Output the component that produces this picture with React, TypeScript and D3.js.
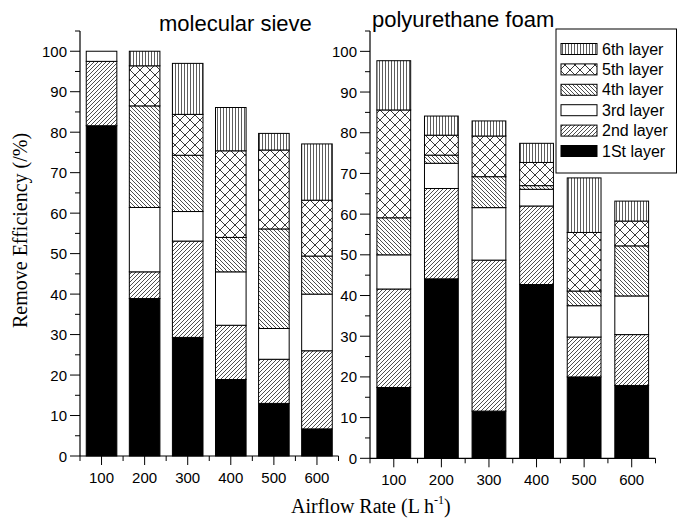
import * as d3 from "d3";

const rates = [100, 200, 300, 400, 500, 600];
const layerKeys = ["l1", "l2", "l3", "l4", "l5", "l6"];
const layerNames = ["1St layer", "2nd layer", "3rd layer", "4th layer", "5th layer", "6th layer"];

// molecular sieve, per layer (increments)
const sieveL1 = [81.6, 38.9, 29.3, 18.9, 13.0, 6.7];
const sieveL2 = [15.9, 6.6, 23.8, 13.4, 10.9, 19.3];
const sieveL3 = [2.5, 15.9, 7.3, 13.2, 7.6, 14.0];
const sieveL4 = [0, 25.1, 13.9, 8.5, 24.6, 9.4];
const sieveL5 = [0, 9.9, 10.1, 21.4, 19.5, 13.8];
const sieveL6 = [0, 3.6, 12.6, 10.7, 4.1, 13.9];

// polyurethane foam
const foamL1 = [17.4, 44.1, 11.6, 42.7, 20.0, 17.9];
const foamL2 = [24.2, 22.2, 37.1, 19.3, 9.8, 12.5];
const foamL3 = [8.4, 6.2, 12.9, 4.1, 7.7, 9.5];
const foamL4 = [9.1, 2.0, 7.6, 0.9, 3.6, 12.3];
const foamL5 = [26.5, 4.9, 10.0, 5.7, 14.4, 6.1];
const foamL6 = [12.1, 4.7, 3.7, 4.7, 13.4, 4.9];

const yMajor = d3.range(0, 101, 10);
const yMinor = d3.range(5, 106, 10);
const xMinor = d3.range(50, 651, 100);

const sans = "'Liberation Sans', Arial, sans-serif";
const serif = "'Liberation Serif', 'Times New Roman', serif";

const fills = ["#000", "url(#p2)", "#fff", "url(#p4)", "url(#p5)", "url(#p6)"];

function toRows(layers) {
  return rates.map((r, i) => {
    const row = { rate: r };
    layerKeys.forEach((k, j) => (row[k] = layers[j][i]));
    return row;
  });
}

function Panel({ layers, x0, x1, yBottom, yTop, title, titleX, titleY }) {
  const x = d3.scaleLinear().domain([50, 650]).range([x0, x1]);
  const y = d3.scaleLinear().domain([0, 105]).range([yBottom, yTop]);
  const series = d3.stack().keys(layerKeys)(toRows(layers));
  const half = 35.5;

  return (
    <g>
      {/* bars */}
      {series.map((s, li) => (
        <g key={s.key}>
          {s.map((d, i) => {
            if (d[1] - d[0] <= 0) return null;
            return (
              <rect
                key={i}
                x={x(d.data.rate - half)}
                y={y(d[1])}
                width={x(d.data.rate + half) - x(d.data.rate - half)}
                height={y(d[0]) - y(d[1])}
                fill={fills[li]}
                stroke="#000"
                strokeWidth={1}
              />
            );
          })}
        </g>
      ))}
      {/* y axis */}
      <line x1={x0} x2={x0} y1={yBottom} y2={y(105)} stroke="#000" strokeWidth={1.2} />
      {yMajor.map((t) => (
        <g key={t}>
          <line x1={x0 - 10} x2={x0} y1={y(t)} y2={y(t)} stroke="#000" />
          <text
            x={x0 - 13}
            y={y(t)}
            textAnchor="end"
            dominantBaseline="central"
            fontSize={15}
            fontFamily={sans}
          >
            {t}
          </text>
        </g>
      ))}
      {yMinor.map((t) => (
        <line key={t} x1={x0 - 5} x2={x0} y1={y(t)} y2={y(t)} stroke="#000" />
      ))}
      {/* x axis */}
      <line x1={x0} x2={x1} y1={yBottom} y2={yBottom} stroke="#000" strokeWidth={1.2} />
      {rates.map((t) => (
        <g key={t}>
          <line x1={x(t)} x2={x(t)} y1={yBottom} y2={yBottom + 9} stroke="#000" />
          <text x={x(t)} y={yBottom + 27} textAnchor="middle" fontSize={15} fontFamily={sans}>
            {t}
          </text>
        </g>
      ))}
      {xMinor.map((t) => (
        <line key={t} x1={x(t)} x2={x(t)} y1={yBottom} y2={yBottom + 5} stroke="#000" />
      ))}
      <text x={titleX} y={titleY} fontSize={22} fontFamily={sans}>
        {title}
      </text>
    </g>
  );
}

function Legend() {
  const order = [5, 4, 3, 2, 1, 0];
  const rowY = d3.scaleLinear().domain([0, 5]).range([49, 151]);
  return (
    <g>
      <rect x={556} y={29} width={120.5} height={144} fill="#fff" stroke="#000" strokeWidth={1} />
      {order.map((li, i) => (
        <g key={li}>
          <rect
            x={561}
            y={rowY(i) - 5.5}
            width={36}
            height={11}
            fill={fills[li]}
            stroke="#000"
            strokeWidth={1}
          />
          <text
            x={602}
            y={rowY(i)}
            dominantBaseline="central"
            fontSize={16}
            fontFamily={sans}
          >
            {layerNames[li]}
          </text>
        </g>
      ))}
    </g>
  );
}

export default function App() {
  return (
    <svg
      width={678}
      height={521}
      style={{ position: "absolute", left: 0, top: 0, background: "#fff" }}
    >
      <defs>
        <pattern id="p2" patternUnits="userSpaceOnUse" width={4} height={4}>
          <rect width={4} height={4} fill="#fff" />
          <path d="M-1,1 l2,-2 M0,4 l4,-4 M3,5 l2,-2" stroke="#222" strokeWidth={0.8} />
        </pattern>
        <pattern id="p4" patternUnits="userSpaceOnUse" width={4} height={4}>
          <rect width={4} height={4} fill="#fff" />
          <path d="M-1,3 l2,2 M0,0 l4,4 M3,-1 l2,2" stroke="#222" strokeWidth={0.8} />
        </pattern>
        <pattern id="p5" patternUnits="userSpaceOnUse" width={10} height={10}>
          <rect width={10} height={10} fill="#fff" />
          <path d="M0,0 L10,10 M10,0 L0,10" stroke="#222" strokeWidth={0.9} />
        </pattern>
        <pattern id="p6" patternUnits="userSpaceOnUse" width={3} height={3}>
          <rect width={3} height={3} fill="#fff" />
          <path d="M1.5,0 L1.5,3" stroke="#333" strokeWidth={0.8} />
        </pattern>
      </defs>
      <Panel
        layers={[sieveL1, sieveL2, sieveL3, sieveL4, sieveL5, sieveL6]}
        x0={80}
        x1={338.5}
        yBottom={456}
        yTop={31}
        title="molecular sieve"
        titleX={159}
        titleY={31}
      />
      <Panel
        layers={[foamL1, foamL2, foamL3, foamL4, foamL5, foamL6]}
        x0={370}
        x1={655.5}
        yBottom={458.3}
        yTop={31}
        title="polyurethane foam"
        titleX={372}
        titleY={27}
      />
      <Legend />
      <text
        transform="translate(27,328) rotate(-90)"
        fontSize={20}
        fontFamily={serif}
      >
        Remove Efficiency (/%)
      </text>
      <text x={291} y={513} fontSize={20} fontFamily={serif}>
        Airflow Rate (L h
        <tspan fontSize={12} dy={-9}>
          -1
        </tspan>
        <tspan dy={9}>)</tspan>
      </text>
    </svg>
  );
}
